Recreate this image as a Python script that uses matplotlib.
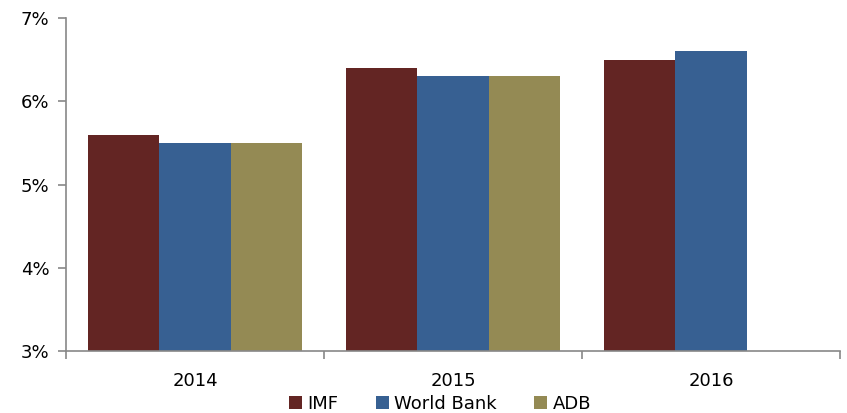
import matplotlib.pyplot as plt
import numpy as np

years = ["2014", "2015", "2016"]
series = ["IMF", "World Bank", "ADB"]
imf = [5.6, 6.4, 6.5]
world_bank = [5.5, 6.3, 6.6]
adb = [5.5, 6.3, np.nan]

colors = ["#632523", "#376092", "#948A54"]

fig = plt.figure(figsize=(8.47, 4.13), dpi=100)
ax = fig.add_axes([0.078, 0.150, 0.914, 0.806])

x = np.arange(len(years))
w = 0.277
for i, (vals, name) in enumerate(zip([imf, world_bank, adb], series)):
    ax.bar(x + (i - 1) * w, vals, width=w, color=colors[i], label=name, zorder=2)

ax.set_xlim(-0.5, 2.5)
ax.set_ylim(3, 7)
ax.set_yticks([3, 4, 5, 6, 7])
ax.set_yticklabels(["3%", "4%", "5%", "6%", "7%"])

# tick marks at category boundaries, labels centred
ax.set_xticks([-0.5, 0.5, 1.5, 2.5])
ax.set_xticklabels([])
ax.set_xticks(x, minor=True)
ax.set_xticklabels(years, minor=True)
ax.tick_params(axis="x", which="minor", length=0, pad=15, labelsize=13)
ax.tick_params(axis="x", which="major", length=6, color="#888888", width=1.2)
ax.tick_params(axis="y", length=6, color="#888888", width=1.2, labelsize=13, pad=6)

for s in ["top", "right"]:
    ax.spines[s].set_visible(False)
for s in ["left", "bottom"]:
    ax.spines[s].set_color("#888888")
    ax.spines[s].set_linewidth(1.2)

ax.legend(loc="lower center", bbox_to_anchor=(0.483, -0.212), ncol=3, frameon=False,
          fontsize=13, handlelength=0.7, handleheight=0.7, handletextpad=0.3,
          columnspacing=2.1, borderpad=0)

fig.savefig("out.png", dpi=100)
